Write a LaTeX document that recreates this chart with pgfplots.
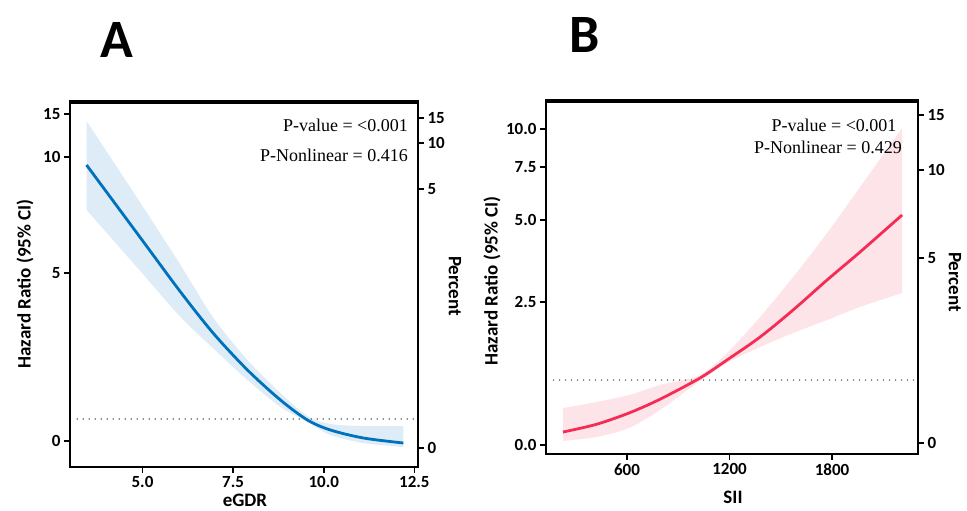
\documentclass[border=0pt]{standalone}
\usepackage{fontspec}
\setmainfont{Carlito}
\newfontfamily\serif{Liberation Serif}
\usepackage{pgfplots}
\pgfplotsset{compat=1.18}
\usepgfplotslibrary{fillbetween}

\definecolor{blueline}{RGB}{0,114,189}
\definecolor{blueband}{RGB}{221,236,246}
\definecolor{redline}{RGB}{245,45,85}
\definecolor{redband}{RGB}{253,228,232}

\pgfplotsset{
  hr/.style={
    scale only axis,
    anchor=south west,
    axis line style={line width=2.4pt},
    tick style={line width=1.6pt, black},
    tick align=outside,
    major tick length=6pt,
    ticklabel style={font=\fontsize{17}{20}\selectfont\bfseries},
    /pgf/number format/assume math mode=true,
  },
  refline/.style={gray!80!black, line width=1.6pt, line cap=round, dash pattern=on 0pt off 6pt},
}

\begin{document}
\begin{tikzpicture}

% ---------------- Panel A ----------------
\begin{axis}[hr,
  at={(70pt,44pt)},
  width=348pt, height=366pt,
  xmin=3, xmax=12.6, ymin=-0.774, ymax=10.119,
  xtick={5,7.5,10,12.5}, xticklabels={5.0,7.5,10.0,12.5},
  ytick={0,5,8.452,9.732}, yticklabels={0,5,10,15},
  xtick pos=bottom, ytick pos=left,
]
\addplot[name path=upA, draw=none, smooth] coordinates {
 (3.456,9.524) (4.945,7.083) (6.048,5.238) (6.958,3.661) (7.895,2.411)
 (8.805,1.429) (9.549,0.744) (10.183,0.506) (11.093,0.446) (12.196,0.446)};
\addplot[name path=loA, draw=none, smooth] coordinates {
 (3.456,6.875) (4.945,5.05) (6.048,3.690) (6.958,2.75) (7.895,1.815)
 (8.805,1.012) (9.549,0.565) (10.183,0.179) (11.093,-0.060) (12.196,-0.179)};
\addplot[blueband] fill between[of=upA and loA];
\addplot[refline] coordinates {(3.2,0.655) (12.55,0.655)};
\addplot[blueline, line width=2.8pt, smooth] coordinates {
 (3.456,8.214) (4.945,6.045) (6.048,4.437) (6.958,3.20) (7.895,2.113)
 (8.805,1.220) (9.549,0.625) (10.183,0.327) (11.093,0.089) (12.196,-0.060)};
\draw[line width=5.5pt] (rel axis cs:0,1) -- (rel axis cs:1,1);
\end{axis}
\begin{axis}[hr,
  at={(70pt,44pt)},
  width=348pt, height=366pt,
  xmin=3, xmax=12.6, ymin=-0.774, ymax=10.119,
  hide x axis, axis y line*=right,
  ytick={-0.208,7.5,8.869,9.613}, yticklabels={0,5,10,15},
]
\addplot[draw=none, forget plot] coordinates {(5,1) (10,5)};
\end{axis}

% ---------------- Panel B ----------------
\begin{axis}[hr,
  at={(546pt,57pt)},
  width=372pt, height=354pt,
  xmin=126, xmax=2303, ymin=-0.157, ymax=6.031,
  xtick={600,1200,1800}, xticklabels={600,1200,1800},
  ytick={0,2.5,3.934,4.860,5.524}, yticklabels={0.0,2.5,5.0,7.5,10.0},
  xtick pos=bottom, ytick pos=left,
]
\addplot[name path=upB, draw=none, smooth] coordinates {
 (225,0.647) (419,0.752) (612,0.874) (793,1.049) (1027,1.224) (1185,1.608)
 (1379,2.238) (1572,2.937) (1771,3.706) (1964,4.510) (2210,5.542)};
\addplot[name path=loB, draw=none, smooth] coordinates {
 (225,0.070) (419,0.140) (612,0.297) (793,0.612) (1027,1.119) (1185,1.434)
 (1379,1.713) (1572,1.958) (1771,2.185) (1964,2.413) (2210,2.657)};
\addplot[redband] fill between[of=upB and loB];
\addplot[refline] coordinates {(170,1.136) (2290,1.136)};
\addplot[redline, line width=2.8pt, smooth] coordinates {
 (225,0.227) (419,0.36) (612,0.56) (793,0.80) (1027,1.171) (1185,1.486)
 (1379,1.888) (1572,2.360) (1771,2.885) (1964,3.374) (2210,4.021)};
\draw[line width=5.5pt] (rel axis cs:0,1) -- (rel axis cs:1,1);
\end{axis}
\begin{axis}[hr,
  at={(546pt,57pt)},
  width=372pt, height=354pt,
  xmin=126, xmax=2303, ymin=-0.157, ymax=6.031,
  hide x axis, axis y line*=right,
  ytick={0.035,3.269,4.808,5.769}, yticklabels={0,5,10,15},
]
\addplot[draw=none, forget plot] coordinates {(600,1) (1200,3)};
\end{axis}

% ---------------- labels ----------------
\begin{scope}[every node/.style={font=\fontsize{19}{22}\selectfont\bfseries}]
\node at (245pt,11pt) {eGDR};
\node at (733pt,14pt) {SII};
\node[rotate=90] at (25pt,227pt) {Hazard Ratio (95\% CI)};
\node[rotate=90] at (492pt,230pt) {Hazard Ratio (95\% CI)};
\node[rotate=-90] at (455pt,225pt) {Percent};
\node[rotate=-90] at (955pt,229pt) {Percent};
\end{scope}
\node[font=\fontsize{54}{54}\selectfont\bfseries] at (117pt,471pt) {A};
\node[font=\fontsize{54}{54}\selectfont\bfseries] at (585pt,476pt) {B};

\begin{scope}[every node/.style={font=\serif\fontsize{18}{20}\selectfont, inner sep=0pt}]
\node[anchor=east] at (408pt,386pt) {P-value = <0.001};
\node[anchor=east] at (408pt,356pt) {P-Nonlinear = 0.416};
\node at (834pt,386pt) {P-value = <0.001};
\node at (828pt,364pt) {P-Nonlinear = 0.429};
\end{scope}

\pgfresetboundingbox
\path[use as bounding box] (0pt,0pt) rectangle (967pt,511pt);
\end{tikzpicture}
\end{document}
